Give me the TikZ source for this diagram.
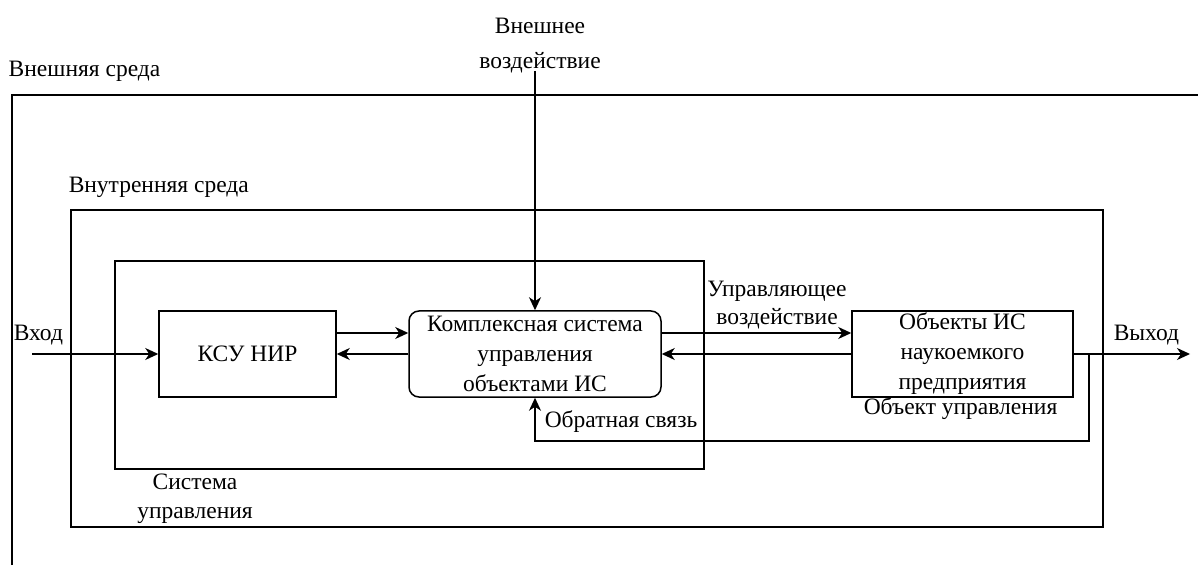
\documentclass[tikz,border=0pt]{standalone}
\usepackage{fontspec}
\setmainfont{Liberation Serif}
\usetikzlibrary{arrows.meta}

\begin{document}
\begin{tikzpicture}[x=10pt, y=10pt, line width=1.5pt, inner sep=0pt,
        >={Stealth[length=13pt, width=12pt, inset=4pt]},
        font=\fontsize{23.5}{30}\selectfont,
        blok/.style={draw, minimum width=#1, minimum height=86pt, align=center}]
        \useasboundingbox (0,0) rectangle (119.8,56.5);
        \draw (1.2,0) -- (1.2,47) -- (119.8,47);
        \node[anchor=base west] (vnesh) at (0.8,48.8) {Внешняя среда};
        \draw (7.1,3.8) rectangle (110.3,35.5);
        \node[anchor=base west] (vnutr) at (6.8,37.2) {Внутренняя среда};
        \draw (11.5,9.6) rectangle (70.4,30.4);
        \node[align=center, font=\fontsize{23.5}{29}\selectfont] (sist) at (19.5,6.6) {Система\\управления};
        \node[blok=177pt] (ksu) at (24.75,21.1) {КСУ НИР};
        \node[blok=252pt, rounded corners=10pt] (ksuo) at (53.5,21.1) {Комплексная система\\управления\\объектами ИС};
        \node[blok=221pt] (obj) at (96.25,21.1) {Объекты ИС\\наукоемкого\\предприятия};
        \node[align=center, font=\fontsize{23.5}{35}\selectfont] (vozd) at (54,51.9) {Внешнее\\воздействие};
        \coordinate (vozdkon) at (53.5,49.4);
        \draw[->] (vozdkon) -- (ksuo.north);
        \coordinate (vhod) at (3.2,21.1);
        \node[anchor=base west] (vhodtxt) at (1.3,22.4) {Вход};
        \draw[->] (vhod) -- (ksu.west);
        \draw[->] ([yshift=21pt]ksu.east) -- ([yshift=21pt]ksuo.west);
        \draw[->] (ksuo.west) -- (ksu.east);
        \draw[->] ([yshift=21pt]ksuo.east) -- ([yshift=21pt]obj.west);
        \draw[->] (obj.west) -- (ksuo.east);
        \node[align=center, font=\fontsize{23.5}{28}\selectfont] (upr) at (77.7,26.0) {Управляющее\\воздействие};
        \coordinate (vyhod) at (119,21.1);
        \node[anchor=base west] (vyhodtxt) at (111.3,22.4) {Выход};
        \draw[->] (obj.east) -- (vyhod);
        \draw[->] ([xshift=15pt]obj.east) -- ++(0,-8.7) -| (ksuo.south);
        \node[anchor=base west] (obsv) at (54.4,13.8) {Обратная связь};
        \node[anchor=base west] (objupr) at (86.3,15.0) {Объект управления};
\end{tikzpicture}
\end{document}
